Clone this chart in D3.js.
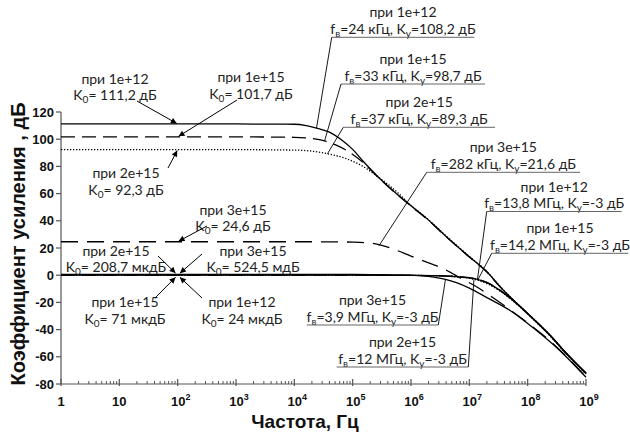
<!DOCTYPE html>
<html><head><meta charset="utf-8">
<script src="https://cdn.jsdelivr.net/npm/d3@7"></script>
<style>body{margin:0;background:#fff}</style>
</head><body><svg id="c" width="630" height="439"></svg>
<script>
// ---------- data ----------
const xTicks = [1,1e1,1e2,1e3,1e4,1e5,1e6,1e7,1e8,1e9];
const xTickLabels = [["1",""],["10",""],["10","2"],["10","3"],["10","4"],["10","5"],["10","6"],["10","7"],["10","8"],["10","9"]];
const yTicks = [-80,-60,-40,-20,0,20,40,60,80,100,120];
const seriesNames = ["1e+12","1e+15","2e+15","3e+15"];

// open-loop curves [frequency Hz, gain dB]
const open_1e12 = [[1,111.2],[1e3,111.2],[1e4,111],[1.6e4,110],[2.4e4,108.2],[4e4,105.2],[7e4,98.3],[1e5,92.5],[1.5e5,84],[3e5,70.5],[6e5,59],[1e6,51],[2e6,40.5],[4e6,28.5],[1e7,13.5],[2e7,2.5],[3.3e7,-8],[6.4e7,-20.5],[1.24e8,-32],[2.4e8,-44],[4.6e8,-57.4],[1e9,-72]];
const open_1e15 = [[1,101.7],[1e3,101.7],[1e4,101.4],[2e4,100.5],[3.3e4,98.7],[5e4,96],[8e4,91.5],[1.5e5,83],[3e5,70.3],[6e5,58.7],[1e6,50.8],[2e6,40.3],[4e6,28.3],[1e7,13.3],[2e7,2.3],[3.3e7,-8.2],[6.4e7,-20.6],[1.24e8,-32],[2.4e8,-44.2],[4.6e8,-57.6],[1e9,-72.3]];
const open_2e15 = [[1,92.3],[1e3,92.3],[1e4,92],[2e4,91.2],[3.7e4,89.3],[8e4,85.5],[1.5e5,80],[3e5,71],[6e5,60.5],[1e6,51.3],[2e6,40.8],[4e6,28.8],[1e7,13.8],[2e7,2.8],[3.3e7,-7.8],[6.4e7,-20.3],[1.24e8,-31.8],[2.4e8,-44],[4.6e8,-57.5],[1e9,-72.5]];
const open_3e15 = [[1,24.6],[1e4,24.6],[5e4,24.5],[1e5,24.3],[2e5,23.6],[2.82e5,22.5],[5e5,19.2],[1e6,14],[2e6,9],[4e6,3.8],[7e6,-2],[1.35e7,-8.7],[2e7,-13.5],[5e7,-25.5],[1e8,-35],[3e8,-52],[1e9,-75]];

// closed-loop curves [frequency Hz, gain dB]
const closed_1e12 = [[1,0],[1e5,0],[1e6,-0.1],[3e6,-0.4],[6e6,-1],[1e7,-2],[1.38e7,-3],[2e7,-5.5],[3.3e7,-11],[6.4e7,-20.7],[1.24e8,-32],[2.4e8,-44],[4.6e8,-57.4],[1e9,-72]];
const closed_1e15 = [[1,0],[1e5,0],[1e6,-0.1],[3e6,-0.4],[6e6,-0.9],[1e7,-1.8],[1.42e7,-3],[2e7,-5.3],[3.3e7,-10.7],[6.4e7,-20.5],[1.24e8,-32],[2.4e8,-44.2],[4.6e8,-57.6],[1e9,-72.3]];
const closed_2e15 = [[1,0],[1e5,0],[1e6,-0.15],[3e6,-0.5],[6e6,-1.2],[1e7,-2.3],[1.2e7,-3],[2e7,-6.2],[3.3e7,-11.5],[6.4e7,-21],[1.24e8,-32.3],[2.4e8,-44.5],[4.6e8,-57.8],[1e9,-72.5]];
const closed_3e15 = [[1,0.5],[1e5,0.5],[1e6,0.1],[2e6,-0.8],[3.9e6,-3],[6e6,-5.5],[1e7,-9.5],[2e7,-16.5],[5e7,-26],[1e8,-35.5],[3e8,-52.5],[1e9,-75]];

// annotation texts
const k0Texts = [
  ["при 1e+12","K_{0}= 111,2 дБ"],
  ["при 1e+15","K_{0}= 101,7 дБ"],
  ["при 2e+15","K_{0}= 92,3 дБ"],
  ["при 3e+15","K_{0}= 24,6 дБ"],
  ["при 2e+15","K_{0}= 208,7 мкдБ"],
  ["при 3e+15","K_{0}= 524,5 мдБ"],
  ["при 1e+15","K_{0}= 71 мкдБ"],
  ["при 1e+12","K_{0}= 24 мкдБ"]
];
const k0Targets = [[100,111.2],[100,101.7],[100,92.3],[100,24.6],[100,0],[100,0],[100,0],[100,0]];
const fbTexts = [
  ["при 1e+12","f_{в}=24 кГц, K_{у}=108,2 дБ"],
  ["при 1e+15","f_{в}=33 кГц, K_{у}=98,7 дБ"],
  ["при 2e+15","f_{в}=37 кГц, K_{у}=89,3 дБ"],
  ["при 3e+15","f_{в}=282 кГц, K_{у}=21,6 дБ"],
  ["при 1e+12","f_{в}=13,8 МГц, K_{у}=-3 дБ"],
  ["при 1e+15","f_{в}=14,2 МГц, K_{у}=-3 дБ"],
  ["при 3e+15","f_{в}=3,9 МГц, K_{у}=-3 дБ"],
  ["при 2e+15","f_{в}=12 МГц, K_{у}=-3 дБ"]
];
const fbTargets = [[2.4e4,108.2],[3.3e4,98.7],[3.7e4,89.3],[2.82e5,21.6],[1.38e7,-3],[1.42e7,-3],[3.9e6,-3],[1.2e7,-3]];

// ---------- layout / style ----------
const svg = d3.select("#c");
const x = d3.scaleLog().domain([1,1e9]).range([61,586]);
const y = d3.scaleLinear().domain([-80,120]).range([384,112]);
const annFont = "Lato, 'Open Sans', sans-serif";
const axFont = "'Liberation Sans', Arial, sans-serif";

svg.append("defs").append("marker").attr("id","ah")
  .attr("viewBox","0 0 10 10").attr("refX",10).attr("refY",5)
  .attr("markerWidth",8).attr("markerHeight",6).attr("markerUnits","userSpaceOnUse")
  .attr("orient","auto")
  .append("path").attr("d","M0,0L10,5L0,10z").attr("fill","#000");

// axes
const axisColor = "#555";
svg.append("line").attr("x1",x(1)).attr("x2",x(1e9)).attr("y1",y(-80)).attr("y2",y(-80)).attr("stroke",axisColor).attr("stroke-width",1.2);
svg.append("line").attr("x1",x(1)).attr("x2",x(1)).attr("y1",y(-80)).attr("y2",y(120)).attr("stroke",axisColor).attr("stroke-width",1.2);
const gy = svg.append("g");
yTicks.forEach(v=>{
  gy.append("line").attr("x1",x(1)-5).attr("x2",x(1)).attr("y1",y(v)).attr("y2",y(v)).attr("stroke",axisColor).attr("stroke-width",1.2);
  gy.append("text").attr("x",x(1)-7).attr("y",y(v)+4.6).attr("text-anchor","end")
    .attr("font-family",axFont).attr("font-weight","bold").attr("font-size",13).attr("fill","#111").text(v);
});
const gx = svg.append("g");
for (let d=0; d<9; d++){
  for (let m=2; m<=9; m++){
    const f = m*Math.pow(10,d);
    gx.append("line").attr("x1",x(f)).attr("x2",x(f)).attr("y1",y(-80)).attr("y2",y(-80)-3).attr("stroke",axisColor).attr("stroke-width",1);
  }
}
xTicks.forEach((f,i)=>{
  gx.append("line").attr("x1",x(f)).attr("x2",x(f)).attr("y1",y(-80)+2).attr("y2",y(-80)-5).attr("stroke",axisColor).attr("stroke-width",1.2);
  const t = gx.append("text").attr("x",x(f)+(xTickLabels[i][1]?3:0)).attr("y",406).attr("text-anchor","middle")
    .attr("font-family",axFont).attr("font-weight","bold").attr("font-size",13).attr("fill","#111");
  t.append("tspan").text(xTickLabels[i][0]);
  if (xTickLabels[i][1]) t.append("tspan").attr("font-size",9).attr("dy",-6).text(xTickLabels[i][1]);
});
svg.append("text").attr("x",305).attr("y",428).attr("text-anchor","middle")
  .attr("font-family",axFont).attr("font-weight","bold").attr("font-size",19).attr("fill","#111").text("Частота, Гц");
svg.append("text").attr("transform","translate(25,244) rotate(-90)").attr("text-anchor","middle")
  .attr("font-family",axFont).attr("font-weight","bold").attr("font-size",20).attr("fill","#111").text("Коэффициент усиления , дБ");

// curves
const line = d3.line().x(d=>x(d[0])).y(d=>y(d[1])).curve(d3.curveMonotoneX);
const curves = [
  {d:open_3e15, dash:"17,9"},
  {d:closed_3e15, dash:null},
  {d:open_2e15, dash:"1.3,1.7"},
  {d:closed_2e15, dash:"1.3,1.7"},
  {d:open_1e15, dash:"14,7"},
  {d:closed_1e15, dash:"14,7"},
  {d:open_1e12, dash:null},
  {d:closed_1e12, dash:null}
];
curves.forEach(c=>{
  svg.append("path").attr("d",line(c.d)).attr("fill","none").attr("stroke","#000")
    .attr("stroke-width",1.3).attr("stroke-dasharray",c.dash);
});

// rich text helper: "K_{0}= ..."
function rich(sel, str){
  let pending = 0;
  str.split(/(_\{[^}]*\})/).forEach(p=>{
    if (!p) return;
    if (p.startsWith("_{")){
      sel.append("tspan").attr("font-size",10).attr("dy",3).text(p.slice(2,-1));
      pending = -3;
    } else {
      const t = sel.append("tspan").text(p);
      if (pending){ t.attr("dy",pending); pending = 0; }
    }
  });
}
function label(cx, bl, lines){
  lines.forEach((s,i)=>{
    const t = svg.append("text").attr("x",cx).attr("y",bl+i*16.7).attr("text-anchor","middle")
      .attr("font-family",annFont).attr("font-size",14).attr("fill","#222");
    rich(t,s);
  });
}

const k0Layout = [
  {cx:115,bl:83.5,from:[137,101],gap:1},
  {cx:251,bl:81.8,from:[237,100],gap:1},
  {cx:126,bl:177.8,from:[168,168],gap:1},
  {cx:233,bl:214.5,from:[207,226],gap:1},
  {cx:116,bl:255.5,from:[158,256],gap:3},
  {cx:253,bl:255.5,from:[202,254],gap:3},
  {cx:125,bl:307.2,from:[155,298],gap:3},
  {cx:242,bl:307.2,from:[202,298],gap:3}
];
k0Texts.forEach((lines,i)=>{
  const L = k0Layout[i];
  label(L.cx, L.bl, lines);
  const tx = x(k0Targets[i][0]), ty = y(k0Targets[i][1]);
  const dx = tx-L.from[0], dy = ty-L.from[1], len = Math.hypot(dx,dy);
  svg.append("line").attr("x1",L.from[0]).attr("y1",L.from[1])
    .attr("x2",tx-dx/len*L.gap).attr("y2",ty-dy/len*L.gap)
    .attr("stroke","#000").attr("stroke-width",1).attr("marker-end","url(#ah)");
});

const fbLayout = [
  {x1:331.7,x2:474.3,uy:37.3,side:"L"},
  {x1:341,x2:485,uy:84,side:"L"},
  {x1:343.3,x2:495,uy:127.3,side:"L"},
  {x1:426.7,x2:580,uy:172.3,side:"L"},
  {x1:486.7,x2:621.7,uy:211.5,side:"L"},
  {x1:491.7,x2:628.3,uy:253.3,side:"L"},
  {x1:306.7,x2:438.3,uy:325,side:"R"},
  {x1:336.7,x2:468.3,uy:367,side:"R"}
];
fbTexts.forEach((lines,i)=>{
  const L = fbLayout[i];
  label((L.x1+L.x2)/2, L.uy-3.5-16.5, lines);
  svg.append("line").attr("x1",L.x1).attr("x2",L.x2).attr("y1",L.uy).attr("y2",L.uy)
    .attr("stroke","#666").attr("stroke-width",1);
  const sx = L.side==="L"?L.x1:L.x2;
  svg.append("line").attr("x1",sx).attr("y1",L.uy)
    .attr("x2",x(fbTargets[i][0])).attr("y2",y(fbTargets[i][1]))
    .attr("stroke","#000").attr("stroke-width",0.9);
});
</script>
</body></html>
